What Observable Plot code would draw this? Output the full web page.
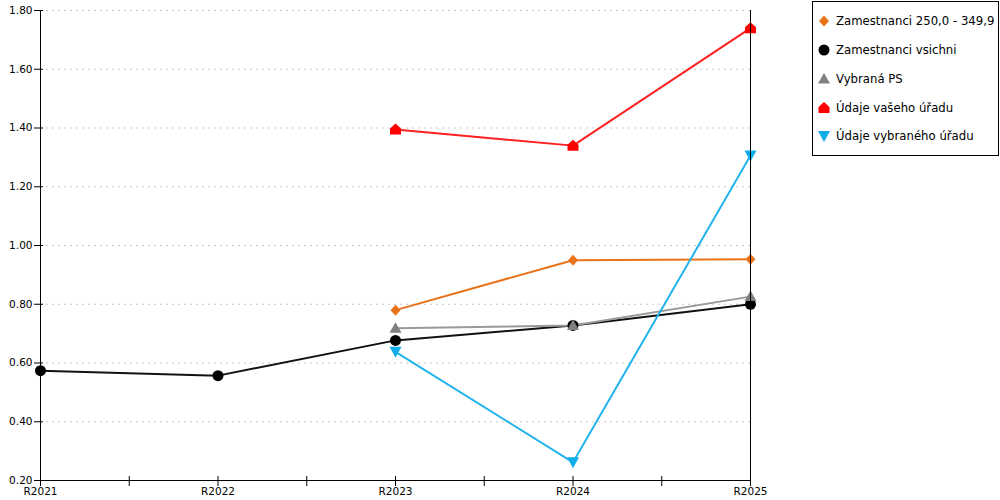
<!DOCTYPE html>
<html>
<head>
<meta charset="utf-8">
<script src="https://cdn.jsdelivr.net/npm/d3@7"></script>
<script src="https://cdn.jsdelivr.net/npm/@observablehq/plot@0.6"></script>
<style>
  html, body { margin: 0; padding: 0; background: #fff; }
  #wrap { position: relative; width: 1000px; height: 500px; font-family: "DejaVu Sans", sans-serif; }
  #legend { position: absolute; left: 812px; top: 1px; width: 185px; height: 153px; border: 1px solid #000; background: #fff; box-sizing: content-box; }
  .item { position: absolute; left: 4px; height: 20px; display: flex; align-items: center; font-size: 11.7px; color: #000; white-space: nowrap; }
  .item svg { margin-right: 5px; }
</style>
</head>
<body>
<div id="wrap"><div id="chart"></div><div id="legend"></div></div>
<script>
// ---- data ----
const years = ["R2021", "R2022", "R2023", "R2024", "R2025"];
const seriesNames = ["Zamestnanci 250,0 - 349,9", "Zamestnanci vsichni", "Vybraná PS", "Údaje vašeho úřadu", "Údaje vybraného úřadu"];
const zam250 = [null, null, 0.780, 0.950, 0.953];
const zamVsichni = [0.574, 0.557, 0.677, 0.728, 0.800];
const vybranaPS = [null, null, 0.718, 0.728, 0.826];
const vasUrad = [null, null, 1.395, 1.340, 1.740];
const vybranyUrad = [null, null, 0.638, 0.262, 1.306];
const yTicks = [0.2, 0.4, 0.6, 0.8, 1.0, 1.2, 1.4, 1.6, 1.8];

// ---- styles ----
const symDiamond = {draw(c) { c.moveTo(0, -5.5); c.lineTo(5, 0); c.lineTo(0, 5.5); c.lineTo(-5, 0); c.closePath(); }};
const symCircle = {draw(c) { c.moveTo(5.5, 0); c.arc(0, 0, 5.5, 0, 2 * Math.PI); c.closePath(); }};
const symUp = {draw(c) { c.moveTo(0, -6); c.lineTo(6, 4.5); c.lineTo(-6, 4.5); c.closePath(); }};
const symHouse = {draw(c) { c.moveTo(-5.5, 5); c.lineTo(5.5, 5); c.lineTo(5.5, -1); c.lineTo(0, -6); c.lineTo(-5.5, -1); c.closePath(); }};
const symDown = {draw(c) { c.moveTo(-6, -5); c.lineTo(6, -5); c.lineTo(0, 6); c.closePath(); }};

const series = [
  {name: seriesNames[0], values: zam250, line: "#e8731a", fill: "#e8731a", symbol: symDiamond},
  {name: seriesNames[1], values: zamVsichni, line: "#111111", fill: "#000000", symbol: symCircle},
  {name: seriesNames[2], values: vybranaPS, line: "#999999", fill: "#808080", symbol: symUp},
  {name: seriesNames[3], values: vasUrad, line: "#ff2020", fill: "#ff0000", symbol: symHouse},
  {name: seriesNames[4], values: vybranyUrad, line: "#22b4ec", fill: "#10aee8", symbol: symDown}
];

const marks = [];
marks.push(Plot.gridY(yTicks.slice(1), {stroke: "#c8c8c8", strokeOpacity: 1, strokeDasharray: "2,4"}));
for (const s of series) {
  const rows = s.values.map((v, i) => ({i, v})).filter(d => d.v != null);
  marks.push(Plot.line(rows, {x: "i", y: "v", stroke: s.line, strokeWidth: 2}));
}
for (const s of series) {
  const rows = s.values.map((v, i) => ({i, v})).filter(d => d.v != null);
  marks.push(Plot.dot(rows, {x: "i", y: "v", symbol: s.symbol, fill: s.fill, stroke: "none", r: 5}));
}
const halfTicks = d3.range(0, years.length - 1 + 0.01, 0.5);
marks.push(
  Plot.ruleX([0], {stroke: "#000"}),
  Plot.ruleX([years.length - 1], {stroke: "#000"}),
  Plot.ruleY([yTicks[0]], {stroke: "#000"}),
  Plot.axisX(halfTicks, {tickSize: 10, dy: -4, tickFormat: () => "", stroke: "#000", label: null}),
  Plot.axisX(d3.range(years.length), {tickSize: 0, tickPadding: 7, tickFormat: i => years[i], fontSize: 10.5, fill: "#000", label: null}),
  Plot.axisY(yTicks, {tickSize: 9, dx: 3, tickFormat: () => "", stroke: "#000", label: null}),
  Plot.axisY(yTicks, {tickSize: 0, tickPadding: 8, tickFormat: d3.format(".2f"), fontSize: 10.5, fill: "#000", label: null})
);

const chart = Plot.plot({
  width: 1000,
  height: 500,
  marginLeft: 40,
  marginRight: 250,
  marginTop: 10,
  marginBottom: 20,
  style: {fontFamily: "DejaVu Sans, sans-serif", fontSize: "10px", background: "#fff", color: "#000"},
  x: {type: "linear", domain: [0, years.length - 1], axis: null, label: null},
  y: {domain: [yTicks[0], yTicks[yTicks.length - 1]], axis: null, label: null},
  marks
});
document.getElementById("chart").appendChild(chart);

// ---- legend ----
const legend = document.getElementById("legend");
const tops = [9, 38, 67, 96, 124];
series.forEach((s, k) => {
  const div = document.createElement("div");
  div.className = "item";
  div.style.top = tops[k] + "px";
  const svg = d3.create("svg").attr("width", 14).attr("height", 14).attr("viewBox", "-7 -7 14 14");
  const p = d3.path(); s.symbol.draw(p);
  svg.append("path").attr("d", p.toString()).attr("fill", s.fill);
  div.appendChild(svg.node());
  const span = document.createElement("span");
  span.textContent = s.name;
  div.appendChild(span);
  legend.appendChild(div);
});
</script>
</body>
</html>
